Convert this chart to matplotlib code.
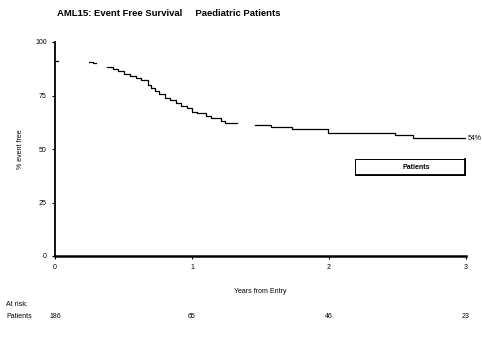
import numpy as np
import matplotlib.pyplot as plt
from matplotlib.patches import Rectangle
from matplotlib.transforms import blended_transform_factory

# Kaplan-Meier event free survival (step points, nan = gap in the printed curve)
years = [0.00, 0.02, np.nan,
         0.25, 0.28, 0.30, np.nan,
         0.38, 0.42, 0.46, 0.50, 0.55, 0.59, 0.63, 0.68, 0.70, 0.73, 0.76,
         0.80, 0.84, 0.88, 0.92, 0.96, 1.00, 1.04, 1.10, 1.14, 1.21, 1.24, 1.33, np.nan,
         1.46, 1.58, 1.73, 1.99, 2.48, 2.61, 2.99]
event_free = [91.0, 91.0, np.nan,
              90.5, 90.0, 90.0, np.nan,
              88.5, 87.5, 86.5, 85.0, 84.0, 83.0, 82.2, 80.0, 78.5, 77.0, 75.5,
              74.0, 73.0, 71.5, 70.3, 69.0, 67.5, 66.8, 65.2, 64.5, 63.2, 62.1, 62.1, np.nan,
              61.0, 60.5, 59.3, 57.5, 56.5, 55.1, 55.1]

x_ticks = [0, 1, 2, 3]
y_ticks = [0, 25, 50, 75, 100]
at_risk = [186, 65, 46, 23]
final_label = "54%"

plt.rcParams["font.family"] = ["Liberation Sans", "DejaVu Sans"]
plt.rcParams["font.size"] = 5

fig = plt.figure(figsize=(4.82, 3.45), dpi=100)
ax = fig.add_axes([55 / 482, 89 / 345, 411 / 482, 214 / 345])

ax.step(years, event_free, where="post", color="black", lw=0.9)

ax.set_xlim(0, 3)
ax.set_ylim(0, 100)
ax.set_xticks(x_ticks)
ax.set_yticks(y_ticks)
ax.spines["top"].set_visible(False)
ax.spines["right"].set_visible(False)
ax.spines["left"].set_linewidth(1.3)
ax.spines["bottom"].set_linewidth(1.8)
ax.tick_params(axis="both", direction="out", length=2, width=0.8, labelsize=5, pad=4)

ax.set_ylabel("% event free", fontsize=5, labelpad=8)
ax.set_xlabel("Years from Entry", fontsize=5, labelpad=12)

ax.text(3.01, 55.1, final_label, fontsize=5, ha="left", va="center")

# legend box
ax.add_patch(Rectangle((0.73, 0.378), 0.267, 0.075, transform=ax.transAxes,
                       facecolor="white", edgecolor="black", lw=0.7, clip_on=False))
ax.plot([0.732, 0.997, 0.997], [0.378, 0.378, 0.452], transform=ax.transAxes,
        color="black", lw=1.3, clip_on=False)
ax.text(0.88, 0.415, "Patients", transform=ax.transAxes, fontsize=5,
        fontweight="bold", ha="center", va="center")

fig.text(57 / 482, 1 - 13 / 345, "AML15: Event Free Survival     Paediatric Patients",
         fontsize=6.8, fontweight="bold", ha="left", va="center")

# numbers at risk
trans = blended_transform_factory(ax.transData, fig.transFigure)
fig.text(6 / 482, 1 - 305 / 345, "At risk:", fontsize=5, ha="left", va="center")
fig.text(6 / 482, 1 - 317 / 345, "Patients", fontsize=5, ha="left", va="center")
for xv, n in zip(x_ticks, at_risk):
    ax.text(xv, 1 - 317 / 345, str(n), transform=trans, fontsize=5,
            ha="center", va="center")

fig.savefig("out.png", dpi=100)
